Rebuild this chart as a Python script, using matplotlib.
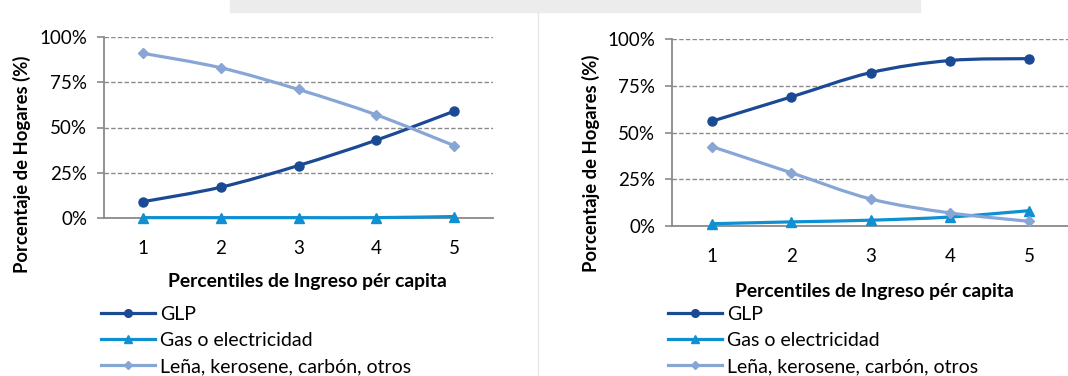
import numpy as np
import matplotlib.pyplot as plt
from matplotlib.path import Path
from matplotlib.patches import PathPatch, Rectangle
from matplotlib.lines import Line2D

plt.rcParams['font.family'] = ['Lato', 'DejaVu Sans']

percentiles = [1, 2, 3, 4, 5]
series_names = ["GLP", "Gas o electricidad", "Leña, kerosene, carbón, otros"]

# left panel (%)
glp_a = [9, 17, 29, 43, 59]
gas_a = [0.2, 0.2, 0.2, 0.2, 0.8]
lena_a = [91, 83, 71, 57, 40]

# right panel (%)
glp_b = [56, 69, 82, 88.5, 89.5]
gas_b = [1.2, 2.2, 3.1, 4.8, 8.2]
lena_b = [42.5, 28.5, 14.5, 7, 2.5]

colors = ["#1b4a94", "#0e90d2", "#87a6d6"]
markers = ["o", "^", "D"]
msizes = [6.5, 7, 5]


def smooth_path(x, y):
    # cubic bezier through the points, like a spreadsheet "smoothed line"
    x = np.asarray(x, float)
    y = np.asarray(y, float)
    pts = np.column_stack([x, y])
    n = len(pts)
    verts = [pts[0]]
    codes = [Path.MOVETO]
    for i in range(n - 1):
        p0 = pts[i - 1] if i > 0 else pts[i]
        p1 = pts[i]
        p2 = pts[i + 1]
        p3 = pts[i + 2] if i + 2 < n else pts[i + 1]
        c1 = p1 + (p2 - p0) / 6.0
        c2 = p2 - (p3 - p1) / 6.0
        verts += [c1, c2, p2]
        codes += [Path.CURVE4] * 3
    return Path(verts, codes)


def draw_panel(ax, data, xlab_pos, ylab_pos):
    for vals, c, m, ms in zip(data, colors, markers, msizes):
        yv = np.array(vals) / 100.0
        ax.add_patch(PathPatch(smooth_path(percentiles, yv), fill=False,
                               edgecolor=c, lw=2.3, capstyle='round',
                               clip_on=False, zorder=3))
        ax.plot(percentiles, yv, linestyle='none', marker=m, ms=ms,
                color=c, clip_on=False, zorder=4)
    ax.set_xlim(0.5, 5.5)
    ax.set_ylim(0, 1)
    ax.set_xticks(percentiles)
    ax.set_yticks([0, 0.25, 0.5, 0.75, 1.0])
    ax.set_yticklabels(["0%", "25%", "50%", "75%", "100%"])
    ax.yaxis.grid(True, linestyle=(0, (3.2, 1.6)), color="#8a8a8a", lw=1.0)
    ax.set_axisbelow(True)
    for s in ["top", "right"]:
        ax.spines[s].set_visible(False)
    for s in ["left", "bottom"]:
        ax.spines[s].set_color("#8a8a8a")
        ax.spines[s].set_linewidth(1.3)
    ax.tick_params(axis='y', length=5, width=1.2, color="#8a8a8a", pad=7,
                   labelsize=13.5)
    ax.tick_params(axis='x', length=0, pad=16, labelsize=13.5)
    ax.set_xlabel("Percentiles de Ingreso pér capita", fontsize=13.9,
                  fontweight='bold', va='center')
    ax.set_ylabel("Porcentaje de Hogares (%)", fontsize=13.3,
                  fontweight='bold', va='center')
    ax.xaxis.set_label_coords(*xlab_pos)
    ax.yaxis.set_label_coords(*ylab_pos)


fig = plt.figure(figsize=(10.68, 3.76), dpi=100)

# faint background band and divider between the two panels
fig.patches.append(Rectangle((230 / 1068, 1 - 12 / 376), 690 / 1068, 12 / 376,
                             transform=fig.transFigure, color="#ececec",
                             zorder=0))
fig.add_artist(Line2D([538 / 1068, 538 / 1068], [0, 1 - 12 / 376],
                      transform=fig.transFigure, color="#e6e6e6", lw=1))

ax1 = fig.add_axes([104 / 1068, 1 - 218 / 376, 389 / 1068, 181 / 376])
ax2 = fig.add_axes([672 / 1068, 1 - 226 / 376, 397 / 1068, 187 / 376])

draw_panel(ax1, [glp_a, gas_a, lena_a], (0.522, -0.352), (-0.21, 0.298))
draw_panel(ax2, [glp_b, gas_b, lena_b], (0.509, -0.352), (-0.205, 0.337))

handles = [Line2D([], [], color=c, lw=2.3, marker=m, ms=ms * 0.85)
           for c, m, ms in zip(colors, markers, msizes)]
for ax, x0 in [(ax1, 101), (ax2, 668)]:
    ax.legend(handles, series_names, loc='upper left',
              bbox_to_anchor=(x0 / 1068, 1 - 306 / 376),
              bbox_transform=fig.transFigure, frameon=False, fontsize=14,
              handlelength=2.78, handletextpad=0.26, labelspacing=0.47,
              borderpad=0, borderaxespad=0)

fig.savefig("out.png", dpi=100)
